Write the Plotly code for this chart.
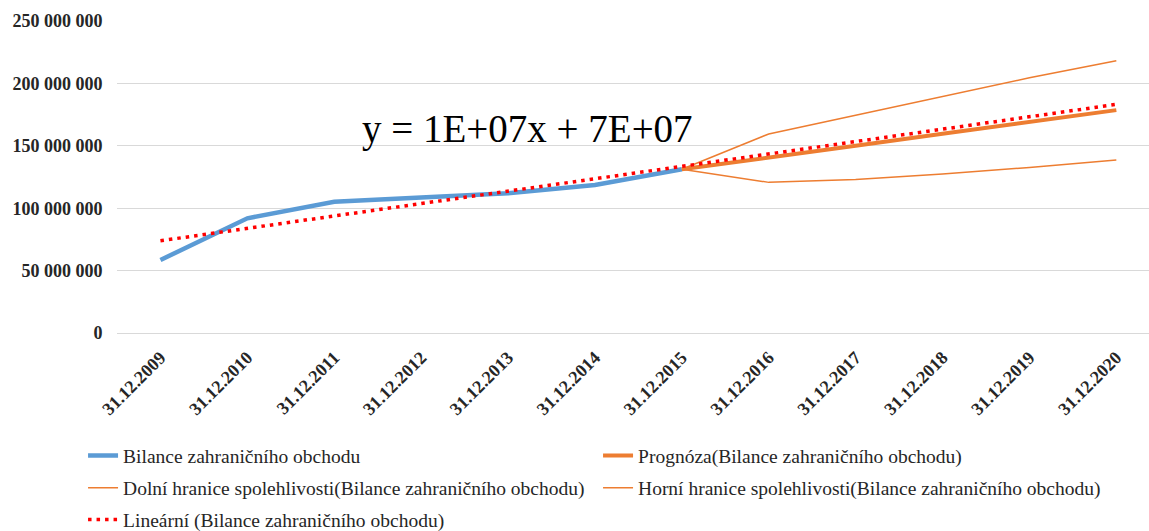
import numpy as np
import plotly.graph_objects as go

# Category labels (year-end dates)
dates = ["31.12.2009", "31.12.2010", "31.12.2011", "31.12.2012", "31.12.2013", "31.12.2014",
         "31.12.2015", "31.12.2016", "31.12.2017", "31.12.2018", "31.12.2019", "31.12.2020"]

# Actual foreign-trade balance, 2009–2015
bilance = [58.5e6, 91.9e6, 105.2e6, 108.7e6, 111.9e6, 118.6e6, 131.2e6]

# Forecast and confidence bounds, 2015–2020
prognoza_dates = dates[6:]
prognoza = [131.2e6, 140.3e6, 150.0e6, 159.6e6, 169.0e6, 178.6e6]
dolni = [131.2e6, 120.7e6, 123.0e6, 127.4e6, 132.6e6, 138.6e6]
horni = [131.2e6, 159.5e6, 174.5e6, 189.7e6, 204.5e6, 218.2e6]

# Linear trendline fitted to the actual values and extended over all periods
idx = np.arange(1, len(bilance) + 1)
slope, intercept = np.polyfit(idx, bilance, 1)
trend = list(slope * np.arange(1, len(dates) + 1) + intercept)

BLUE = "#5B9BD5"
ORANGE = "#ED7D31"
RED = "#FF0000"
SERIF = "Liberation Serif"

fig = go.Figure()
fig.add_trace(go.Scatter(x=dates[:7], y=bilance, mode="lines", name="Bilance zahraničního obchodu",
                         line=dict(color=BLUE, width=4.5), legend="legend"))
fig.add_trace(go.Scatter(x=prognoza_dates, y=prognoza, mode="lines",
                         name="Prognóza(Bilance zahraničního obchodu)",
                         line=dict(color=ORANGE, width=4), legend="legend"))
fig.add_trace(go.Scatter(x=prognoza_dates, y=dolni, mode="lines",
                         name="Dolní hranice spolehlivosti(Bilance zahraničního obchodu)",
                         line=dict(color=ORANGE, width=1.5), legend="legend2"))
fig.add_trace(go.Scatter(x=prognoza_dates, y=horni, mode="lines",
                         name="Horní hranice spolehlivosti(Bilance zahraničního obchodu)",
                         line=dict(color=ORANGE, width=1.5), legend="legend2"))
fig.add_trace(go.Scatter(x=dates, y=trend, mode="lines",
                         name="Lineární (Bilance zahraničního obchodu)",
                         line=dict(color=RED, width=3.5, dash="3.5px,5px"), legend="legend3"))

legend_common = dict(orientation="h", xanchor="left", yanchor="middle", x=-0.0329,
                     font=dict(family=SERIF, size=19.5, color="#262626"),
                     entrywidth=470, entrywidthmode="pixels", bgcolor="rgba(0,0,0,0)",
                     itemclick=False, itemdoubleclick=False)

fig.add_annotation(text="y = 1E+07x + 7E+07", xref="paper", yref="paper",
                   x=0.3978, y=0.655, xanchor="center", yanchor="middle", showarrow=False,
                   font=dict(family=SERIF, size=39, color="#000000"))

fig.update_layout(
    width=1149, height=531,
    margin=dict(l=117, r=0, t=21, b=198, autoexpand=False),
    paper_bgcolor="white", plot_bgcolor="white",
    separators=", ",
    showlegend=True,
    legend=dict(legend_common, y=-0.394),
    legend2=dict(legend_common, y=-0.497),
    legend3=dict(legend_common, y=-0.599),
    xaxis=dict(type="category", categoryorder="array", categoryarray=dates,
               range=[-0.5, 11.376], showgrid=False, zeroline=False, showline=False,
               tickangle=-45, ticks="outside", ticklen=6, tickcolor="rgba(0,0,0,0)",
               tickfont=dict(family=SERIF, size=18, color="#262626", weight="bold")),
    yaxis=dict(range=[0, 250e6], dtick=50e6, tickformat=",d", showgrid=True,
               gridcolor="#D9D9D9", gridwidth=1, zeroline=True, zerolinecolor="#D9D9D9",
               zerolinewidth=1, showline=False, ticks="outside", ticklen=10,
               tickcolor="rgba(0,0,0,0)",
               tickfont=dict(family=SERIF, size=18, color="#262626", weight="bold")),
)

fig.write_html("out.html")
